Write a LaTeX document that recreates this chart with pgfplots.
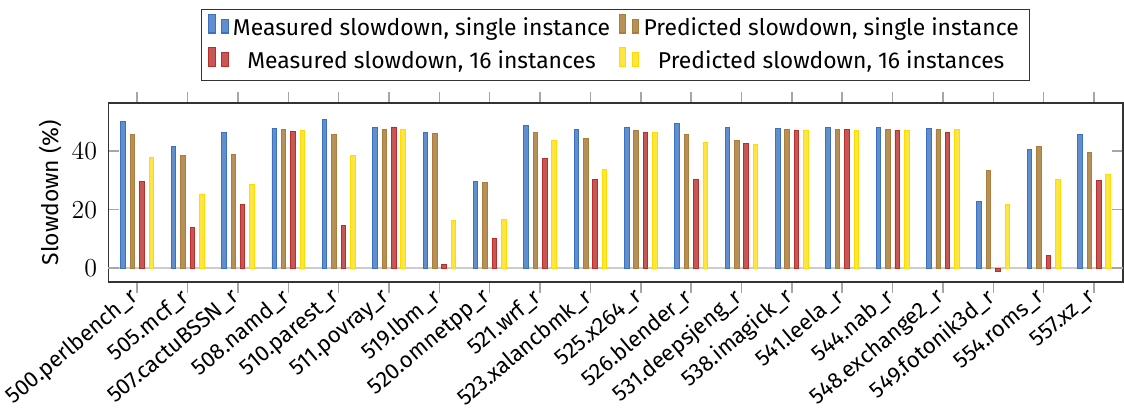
\documentclass[border=0pt]{standalone}
\usepackage{pgfplots}
\pgfplotsset{compat=1.18}
\usepackage{fontspec}
\setmainfont{Fira Sans}

\definecolor{cBlue}{RGB}{58,114,192}
\definecolor{cBrown}{RGB}{170,125,58}
\definecolor{cRed}{RGB}{185,45,43}
\definecolor{cYellow}{RGB}{255,220,0}

\begin{document}
\fontsize{10.6}{12.7}\selectfont
\begin{tikzpicture}
\begin{axis}[
  scale only axis,
  width=470pt, height=83pt,
  ybar,
  bar width=0.09,
  xmin=-0.575, xmax=19.575,
  ymin=-4.8, ymax=56.5,
  xtick={0,...,19},
  xticklabels={500.perlbench\_r,505.mcf\_r,507.cactuBSSN\_r,508.namd\_r,510.parest\_r,511.povray\_r,519.lbm\_r,520.omnetpp\_r,521.wrf\_r,523.xalancbmk\_r,525.x264\_r,526.blender\_r,531.deepsjeng\_r,538.imagick\_r,541.leela\_r,544.nab\_r,548.exchange2\_r,549.fotonik3d\_r,554.roms\_r,557.xz\_r},
  x tick label style={rotate=40, anchor=east, inner sep=1pt,
    font=\fontsize{10.3}{12.3}\selectfont},
  ytick={0,20,40},
  yticklabel style={xshift=-1.5pt, font=\fontsize{11.5}{13.5}\selectfont},
  ylabel={Slowdown (\%)},
  ylabel style={yshift=-2.5pt},
  tick style={gray!70, line width=0.7pt},
  major tick length=5pt,
  axis line style={black!80, line width=0.7pt},
  extra y ticks={0},
  extra y tick labels={},
  extra y tick style={grid=major, major grid style={gray!40, line width=1pt}},
  legend columns=2,
  legend cell align=center,
  legend style={at={(0.5,1.0)}, anchor=south, yshift=10pt,
    draw=black!80, line width=0.5pt,
    row sep=1.5pt,
    /tikz/every even column/.append style={column sep=2pt}},
]
% Measured slowdown, single instance
\addplot[bar shift=-0.28, draw=cBlue, fill=cBlue!80] coordinates {
 (0,50.3) (1,41.7) (2,46.3) (3,47.9) (4,51.0) (5,48.2) (6,46.4) (7,29.5) (8,48.7) (9,47.3)
 (10,48.1) (11,49.4) (12,48.1) (13,47.9) (14,48.1) (15,48.0) (16,47.8) (17,22.8) (18,40.6) (19,45.6)};
\addlegendentry{Measured slowdown, single instance}
% Predicted slowdown, single instance
\addplot[bar shift=-0.093, draw=cBrown, fill=cBrown!85] coordinates {
 (0,45.7) (1,38.4) (2,39.0) (3,47.3) (4,45.6) (5,47.5) (6,46.0) (7,29.3) (8,46.4) (9,44.4)
 (10,47.1) (11,45.7) (12,43.8) (13,47.5) (14,47.4) (15,47.3) (16,47.5) (17,33.4) (18,41.7) (19,39.5)};
\addlegendentry{Predicted slowdown, single instance}
% Measured slowdown, 16 instances
\addplot[bar shift=0.093, draw=cRed, fill=cRed!80] coordinates {
 (0,29.6) (1,13.9) (2,21.9) (3,46.7) (4,14.5) (5,48.3) (6,1.3) (7,10.2) (8,37.6) (9,30.5)
 (10,46.3) (11,30.4) (12,42.7) (13,47.2) (14,47.5) (15,47.2) (16,46.5) (17,-1.1) (18,4.4) (19,30.0)};
\addlegendentry{Measured slowdown, 16 instances}
% Predicted slowdown, 16 instances
\addplot[bar shift=0.28, draw=cYellow, fill=cYellow!75] coordinates {
 (0,38.0) (1,25.2) (2,28.6) (3,47.0) (4,38.6) (5,47.3) (6,16.3) (7,16.8) (8,43.8) (9,33.8)
 (10,46.5) (11,43.0) (12,42.3) (13,47.2) (14,47.2) (15,47.2) (16,47.3) (17,21.8) (18,30.3) (19,32.2)};
\addlegendentry{Predicted slowdown, 16 instances}
\end{axis}
% a little white space above the legend
\path (current bounding box.north) ++(0,4pt);
\end{tikzpicture}
\end{document}
